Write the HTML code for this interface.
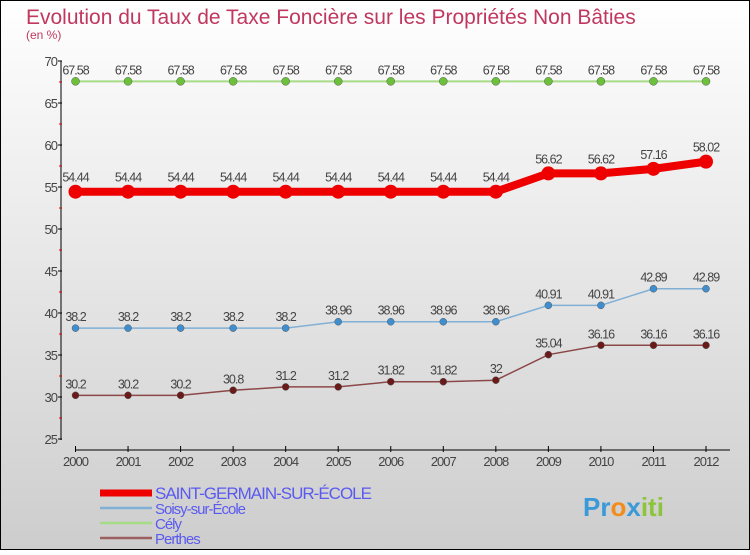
<!DOCTYPE html>
<html><head><meta charset="utf-8"><style>
html,body{margin:0;padding:0}
body{width:750px;height:550px;overflow:hidden;font-family:"Liberation Sans",sans-serif}
</style></head><body>
<svg width="750" height="550" xmlns="http://www.w3.org/2000/svg">
<defs><linearGradient id="bg" x1="0" y1="0" x2="0" y2="1"><stop offset="0" stop-color="#ffffff"/><stop offset="1" stop-color="#cdcdcd"/></linearGradient></defs>
<rect x="0.5" y="0.5" width="749" height="549" fill="url(#bg)" stroke="#000"/>
<text x="26" y="24" font-size="21" fill="#c0385f">Evolution du Taux de Taxe Foncière sur les Propriétés Non Bâties</text>
<text x="26" y="39" font-size="12" fill="#c0385f">(en %)</text>
<g id="axes"></g>
<g id="series"></g>
<g id="legend"></g>
<text x="583" y="516" font-size="26" font-weight="bold" fill="#3a9ad9">Pr<tspan fill="#f28c1c">o</tspan><tspan fill="#3a9ad9">x</tspan><tspan fill="#8cc43c">iti</tspan></text>
</svg>
<script>
const years=[2000,2001,2002,2003,2004,2005,2006,2007,2008,2009,2010,2011,2012];
const yTicks=[25,30,35,40,45,50,55,60,65,70];
const names=["SAINT-GERMAIN-SUR-ÉCOLE","Soisy-sur-École","Cély","Perthes"];
const stGermain=[54.44,54.44,54.44,54.44,54.44,54.44,54.44,54.44,54.44,56.62,56.62,57.16,58.02];
const soisy=[38.2,38.2,38.2,38.2,38.2,38.96,38.96,38.96,38.96,40.91,40.91,42.89,42.89];
const cely=[67.58,67.58,67.58,67.58,67.58,67.58,67.58,67.58,67.58,67.58,67.58,67.58,67.58];
const perthes=[30.2,30.2,30.2,30.8,31.2,31.2,31.82,31.82,32,35.04,36.16,36.16,36.16];
const NS="http://www.w3.org/2000/svg";
const xS=i=>75.5+i*(706-75.5)/(years.length-1);
const yS=v=>439-(v-25)*(439-61)/45;
function mk(tag,attrs,parent,txt){const e=document.createElementNS(NS,tag);for(const k in attrs)e.setAttribute(k,attrs[k]);if(txt!==undefined)e.textContent=txt;parent.appendChild(e);return e;}
const ax=document.getElementById('axes');
let e=mk('line',{x1:61,y1:61,x2:61,y2:440,stroke:'#000'},ax);


e=mk('line',{x1:75,y1:450,x2:730,y2:450,stroke:'#000'},ax);


yTicks.forEach(v=>{const y=yS(v);
 mk('line',{x1:58,y1:y,x2:62,y2:y,stroke:'#000'},ax);
 if(v<70){mk('line',{x1:59,y1:yS(v+2.5),x2:62,y2:yS(v+2.5),stroke:'#d00'},ax);}
 const t=mk('text',{x:57,y:y+5,'font-size':13,fill:'#444','text-anchor':'end','letter-spacing':'-1'},ax,String(v));
 
 
});
years.forEach((yr,i)=>{const x=xS(i);
 mk('line',{x1:x,y1:446,x2:x,y2:452,stroke:'#000'},ax);
 const t=mk('text',{x:x,y:466,'font-size':13,fill:'#444','text-anchor':'middle','letter-spacing':'-1'},ax,String(yr));
 
 
});
const sg=document.getElementById('series');
const defs=[[cely,'#a6dc86','#6cc13a',2,4,'cely'],[stGermain,'#ee0000','#ee0000',8,7,'saint-germain'],[soisy,'#80b0d6','#3f8fd0',1.5,3.5,'soisy'],[perthes,'#8b4848','#6b1a1a',1.5,3.5,'perthes']];
defs.forEach(([data,lc,pc,w,r,nm])=>{
 const g=mk('g',{},sg);
 
 
 const p=mk('polyline',{points:data.map((v,i)=>xS(i)+','+yS(v)).join(' '),fill:'none',stroke:lc,'stroke-width':w},g);
 
 
 data.forEach((v,i)=>{
  const c=mk('circle',{cx:xS(i),cy:yS(v),r:r,fill:pc,stroke:w>4?'none':'#555','stroke-width':0.5},g);
  
  
  const t=mk('text',{x:xS(i),y:yS(v)-(w>4?10:7),'font-size':12.5,fill:'#444','text-anchor':'middle','letter-spacing':'-1'},g,String(v));
  
  
 });
});
const lg=document.getElementById('legend');
const lcols=['#ee0000','#80b0d6','#a6dc86','#9b6060'];const lw=[7,2.5,2.5,2.5];const ly=[493,508,523,538];const fs=[17,15,15,15];
names.forEach((n,i)=>{
 const g=mk('g',{},lg);
 
 
 mk('line',{x1:100,y1:ly[i],x2:152,y2:ly[i],stroke:lcols[i],'stroke-width':lw[i]},g);
 mk('text',{x:155,y:ly[i]+6,'font-size':fs[i],fill:'#5a5af0','letter-spacing':'-1'},g,n);
});
</script>
</body></html>
